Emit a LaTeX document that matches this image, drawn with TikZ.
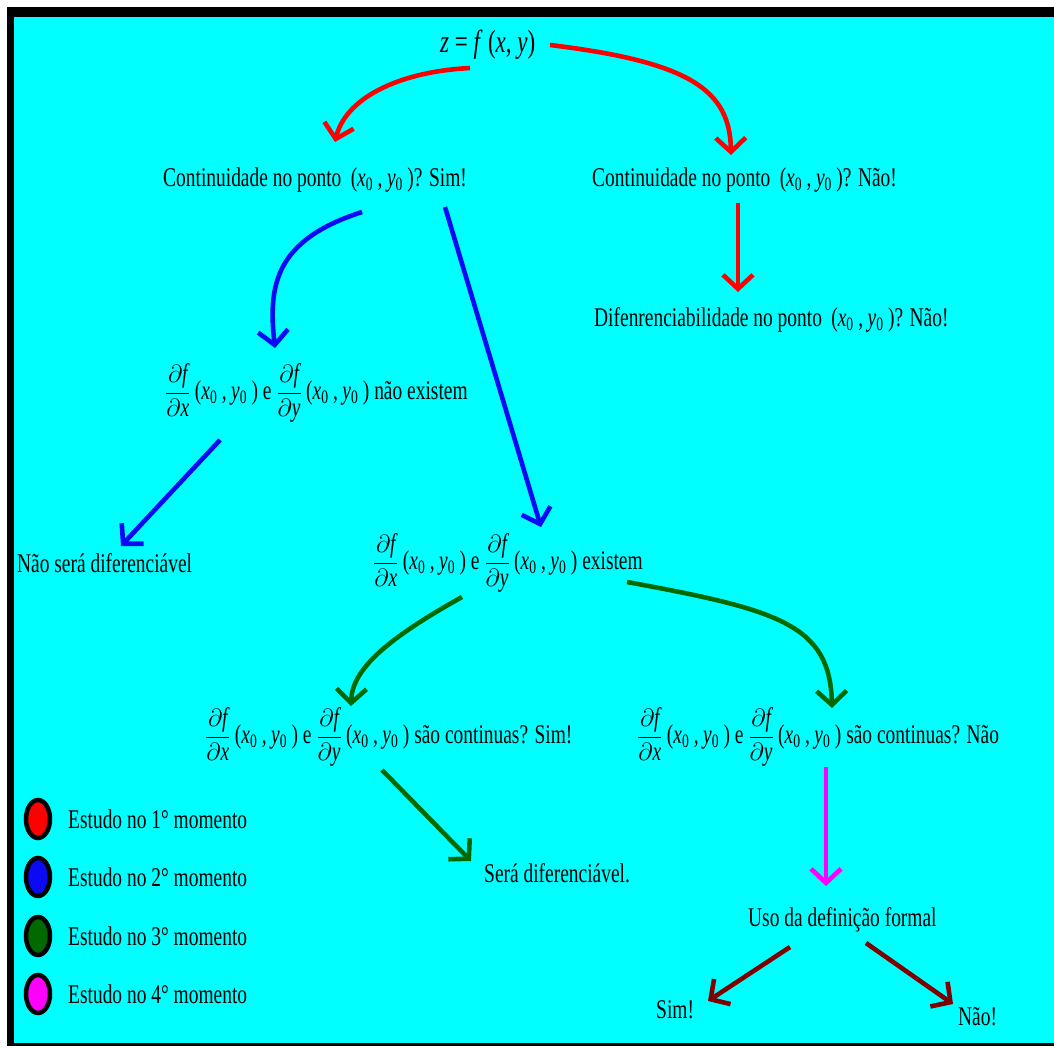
\documentclass[tikz,border=0pt]{standalone}
\usepackage{amsmath}
\usepackage{fontspec}
\setmainfont{Liberation Serif}[FakeStretch=0.72]
\usetikzlibrary{arrows.meta,shapes.geometric}
\definecolor{bgcyan}{HTML}{00FFFF}
\definecolor{arrred}{HTML}{FF0000}
\definecolor{arrblue}{HTML}{0A0AF5}
\definecolor{arrgreen}{HTML}{006A00}
\definecolor{arrmag}{HTML}{FF00FF}
\definecolor{arrmaroon}{HTML}{800000}
\newcommand{\ptxy}{\,(\textit{x}\textsubscript{0}\,,\,\textit{y}\textsubscript{0}\,)}
\newcommand{\dfx}{$\dfrac{\partial \textit{f}}{\partial \textit{x}}$}
\newcommand{\dfy}{$\dfrac{\partial \textit{f}}{\partial \textit{y}}$}
\begin{document}
\begin{tikzpicture}[x=1pt,y=-1pt,
  txt/.style={font=\fontsize{27}{32}\selectfont, inner sep=0pt, anchor=west, text=black},
  arr/.style={line width=4.6pt, -{Straight Barb[length=14pt,width=30pt]}},
  leg/.style={ellipse, draw=black, line width=4.5pt, minimum width=24pt, minimum height=38pt, inner sep=0pt}]
\useasboundingbox (0,0) rectangle (1054,1048);
\fill[white] (0,0) rectangle (1054,1048);
\fill[black] (7,7) rectangle (1054,1046);
\fill[bgcyan] (14,17) rectangle (1056,1043);

\node[txt, font=\fontsize{32}{36}\selectfont] (z) at (440,45) {\textit{z} = \textit{f}\,(\textit{x}, \textit{y})};
\node[txt] (cs) at (163,180) {Continuidade no ponto \ptxy? Sim!};
\node[txt] (cn) at (592,180) {Continuidade no ponto \ptxy? Não!};
\node[txt] (dn) at (594,320) {Difenrenciabilidade no ponto \ptxy? Não!};
\node[txt] (pne) at (165,393) {\dfx\ptxy\ e \dfy\ptxy\ não existem};
\node[txt] (nsd) at (17,563) {Não será diferenciável};
\node[txt] (pe) at (373,563) {\dfx\ptxy\ e \dfy\ptxy\ existem};
\node[txt] (pcs) at (205,737) {\dfx\ptxy\ e \dfy\ptxy\ são continuas? Sim!};
\node[txt] (pcn) at (637,737) {\dfx\ptxy\ e \dfy\ptxy\ são continuas? Não};
\node[txt] (sd) at (484,873) {Será diferenciável.};
\node[txt] (uso) at (748,920) {Uso da definição formal};
\node[txt] (sim) at (656,1010) {Sim!};
\node[txt] (nao) at (958,1017) {Não!};

% legend
\node[leg, fill=arrred] (l1) at (38,819) {};
\node[leg, fill=arrblue] (l2) at (38,877) {};
\node[leg, fill=arrgreen] (l3) at (38,936) {};
\node[leg, fill=arrmag] (l4) at (38,994) {};
\node[txt] (t1) at (68,819) {Estudo no 1° momento};
\node[txt] (t2) at (68,877) {Estudo no 2° momento};
\node[txt] (t3) at (68,936) {Estudo no 3° momento};
\node[txt] (t4) at (68,994) {Estudo no 4° momento};

% arrows: endpoints near named nodes
\coordinate (a1s) at (470,68);  \coordinate (a1e) at (335,142);
\coordinate (a2s) at (550,45);  \coordinate (a2e) at (731,155);
\coordinate (a3s) at (738,203); \coordinate (a3e) at (738,292);
\coordinate (b1s) at (362,212); \coordinate (b1e) at (275,348);
\coordinate (b2s) at (445,207); \coordinate (b2e) at (541,527);
\coordinate (b3s) at (220,440); \coordinate (b3e) at (121,546);
\coordinate (g1s) at (462,597); \coordinate (g1e) at (351,706);
\coordinate (g2s) at (627,582); \coordinate (g2e) at (832,708);
\coordinate (g3s) at (382,770); \coordinate (g3e) at (471,861);
\coordinate (m1s) at (826,767); \coordinate (m1e) at (826,886);
\coordinate (r1s) at (790,947); \coordinate (r1e) at (708,1001);
\coordinate (r2s) at (866,943); \coordinate (r2e) at (953,1004);

\draw[arr, arrred] (a1s) .. controls (395,72) and (345,100) .. (a1e);
\draw[arr, arrred] (a2s) .. controls (690,62) and (730,90) .. (a2e);
\draw[arr, arrred] (a3s) -- (a3e);
\draw[arr, arrblue] (b1s) .. controls (275,240) and (268,285) .. (b1e);
\draw[arr, arrblue] (b2s) -- (b2e);
\draw[arr, arrblue] (b3s) -- (b3e);
\draw[arr, arrgreen] (g1s) .. controls (385,640) and (352,670) .. (g1e);
\draw[arr, arrgreen] (g2s) .. controls (780,610) and (830,625) .. (g2e);
\draw[arr, arrgreen] (g3s) -- (g3e);
\draw[arr, arrmag] (m1s) -- (m1e);
\draw[arr, arrmaroon] (r1s) -- (r1e);
\draw[arr, arrmaroon] (r2s) -- (r2e);
\end{tikzpicture}
\end{document}
